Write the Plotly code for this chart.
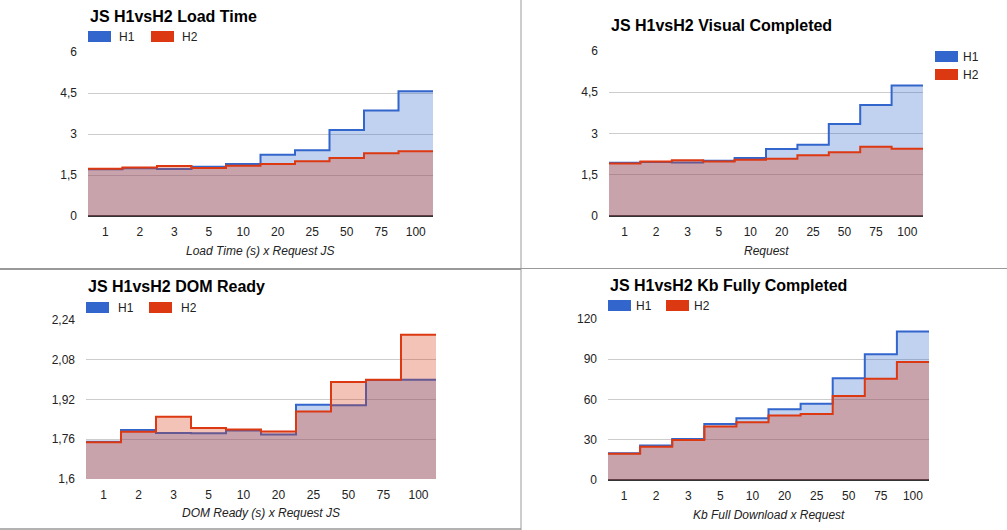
import plotly.graph_objects as go

W, H = 1007, 530

categories = ["1", "2", "3", "5", "10", "20", "25", "50", "75", "100"]

load_h1 = [1.71, 1.75, 1.72, 1.80, 1.90, 2.24, 2.41, 3.15, 3.86, 4.56]
load_h2 = [1.73, 1.77, 1.83, 1.76, 1.84, 1.90, 2.00, 2.12, 2.30, 2.37]

vis_h1 = [1.94, 1.96, 1.95, 2.01, 2.11, 2.44, 2.59, 3.35, 4.04, 4.75]
vis_h2 = [1.91, 1.98, 2.03, 1.98, 2.05, 2.08, 2.21, 2.32, 2.52, 2.45]

dom_h1 = [1.750, 1.797, 1.785, 1.784, 1.795, 1.779, 1.899, 1.897, 1.998, 1.999]
dom_h2 = [1.748, 1.790, 1.851, 1.805, 1.799, 1.791, 1.872, 1.990, 2.000, 2.181]

kb_h1 = [19.9, 25.8, 30.6, 41.7, 46.0, 52.7, 56.9, 75.8, 93.7, 110.6]
kb_h2 = [19.6, 24.8, 29.8, 39.8, 43.0, 48.0, 49.2, 62.6, 75.5, 88.0]

titles = ["JS H1vsH2 Load Time", "JS H1vsH2 Visual Completed",
          "JS H1vsH2 DOM Ready", "JS H1vsH2 Kb Fully Completed"]
xtitles = ["Load Time (s) x Request JS", "Request",
           "DOM Ready (s) x Request JS", "Kb Full Download x Request"]
series_names = ["H1", "H2"]

ytick_vals = [[0, 1.5, 3, 4.5, 6], [0, 1.5, 3, 4.5, 6],
              [1.6, 1.76, 1.92, 2.08, 2.24], [0, 30, 60, 90, 120]]
ytick_text = [["0", "1,5", "3", "4,5", "6"], ["0", "1,5", "3", "4,5", "6"],
              ["1,6", "1,76", "1,92", "2,08", "2,24"], ["0", "30", "60", "90", "120"]]

BLUE = "#3366cc"
RED = "#dc3912"
FILLS = ["rgba(51,102,204,0.3)", "rgba(220,57,18,0.3)"]
LINES = [BLUE, RED]
FONT = "Arial, 'Liberation Sans', sans-serif"
TXT = "#222222"

# plot areas in pixels: (left, top, right, bottom)
areas = [(88, 52, 433, 216), (609, 51, 923, 216), (86, 320, 436, 479), (608, 319, 929, 480)]


def px(x):
    return x / W


def py(y):
    return 1 - y / H


data = [(load_h1, load_h2), (vis_h1, vis_h2), (dom_h1, dom_h2), (kb_h1, kb_h2)]

fig = go.Figure()
edges = [i - 0.5 for i in range(len(categories) + 1)]

for k, (s1, s2) in enumerate(data):
    xa = "x" if k == 0 else f"x{k+1}"
    ya = "y" if k == 0 else f"y{k+1}"
    for j, s in enumerate((s1, s2)):
        fig.add_trace(go.Scatter(
            x=edges, y=list(s) + [s[-1]], xaxis=xa, yaxis=ya,
            mode="lines", line=dict(shape="hv", color=LINES[j], width=2),
            fill="tozeroy", fillcolor=FILLS[j], name=series_names[j],
            showlegend=False, hoverinfo="skip"))

layout = dict(width=W, height=H, margin=dict(l=0, r=0, t=0, b=0, pad=0), autosize=False,
              paper_bgcolor="white", plot_bgcolor="white", showlegend=False,
              font=dict(family=FONT, size=12, color=TXT))
annotations = []
shapes = []

for k, (l, t, r, b) in enumerate(areas):
    sx = "" if k == 0 else str(k + 1)
    yv = ytick_vals[k]
    layout[f"xaxis{sx}"] = dict(
        domain=[px(l), px(r)], anchor=f"y{sx}", range=[-0.5, len(categories) - 0.5],
        tickvals=list(range(len(categories))), ticktext=categories,
        showgrid=False, zeroline=False, showline=False, ticks="", automargin=False,
        ticklabelstandoff=7, tickfont=dict(size=12, color=TXT), fixedrange=True)
    layout[f"yaxis{sx}"] = dict(
        domain=[py(b), py(t)], anchor=f"x{sx}", range=[yv[0], yv[-1]],
        tickvals=yv, ticktext=ytick_text[k], showgrid=True, gridcolor="#cccccc",
        gridwidth=1, zeroline=(yv[0] == 0), zerolinecolor="#333333", zerolinewidth=1.5,
        showline=False, ticks="", ticklabelstandoff=10, automargin=False,
        tickfont=dict(size=12, color=TXT), fixedrange=True)
    annotations.append(dict(
        text=xtitles[k], xref="paper", yref="paper", x=px((l + r) / 2),
        y=py(251 if k < 2 else (513 if k == 2 else 515)), xanchor="center", yanchor="middle",
        showarrow=False, font=dict(family=FONT, size=12, color=TXT, style="italic")))

# titles
title_pos = [(88, 17), (609, 25.5), (86, 286), (608, 285)]
for k, (x, y) in enumerate(title_pos):
    annotations.append(dict(
        text=f"<b>{titles[k]}</b>", xref="paper", yref="paper", x=px(x), y=py(y),
        xanchor="left", yanchor="middle", showarrow=False,
        font=dict(family=FONT, size=16, color="#000000")))

# legends: (square left, square top, text x) for each series
legend_items = [
    [(88, 31, 117), (151, 31, 180)],
    [(935, 51, 961), (935, 69, 961)],
    [(86, 302, 116), (149, 302, 179)],
    [(608, 300, 634), (666, 300, 692)],
]
for k, items in enumerate(legend_items):
    for j, (x0, y0, tx) in enumerate(items):
        shapes.append(dict(type="rect", xref="paper", yref="paper",
                           x0=px(x0), x1=px(x0 + 23), y0=py(y0), y1=py(y0 + 11),
                           fillcolor=LINES[j], line=dict(width=0)))
        annotations.append(dict(
            text=series_names[j], xref="paper", yref="paper", x=px(tx), y=py(y0 + 5.5),
            xanchor="left", yanchor="middle", showarrow=False,
            font=dict(family=FONT, size=12, color=TXT)))

# panel separators
SEP = "#999999"
shapes += [
    dict(type="line", xref="paper", yref="paper", x0=px(521), x1=px(521), y0=py(0), y1=py(530),
         line=dict(color=SEP, width=1)),
    dict(type="line", xref="paper", yref="paper", x0=px(0), x1=px(521), y0=py(269), y1=py(269),
         line=dict(color=SEP, width=2)),
    dict(type="line", xref="paper", yref="paper", x0=px(521), x1=px(1007), y0=py(268.5), y1=py(268.5),
         line=dict(color=SEP, width=1)),
    dict(type="line", xref="paper", yref="paper", x0=px(0), x1=px(521), y0=py(529), y1=py(529),
         line=dict(color=SEP, width=1.5)),
]

layout["annotations"] = annotations
layout["shapes"] = shapes
fig.update_layout(**layout)
fig.write_html("out.html", config={"displayModeBar": False, "staticPlot": True},
               post_script="document.body.style.margin='0';document.body.style.overflow='hidden';")
